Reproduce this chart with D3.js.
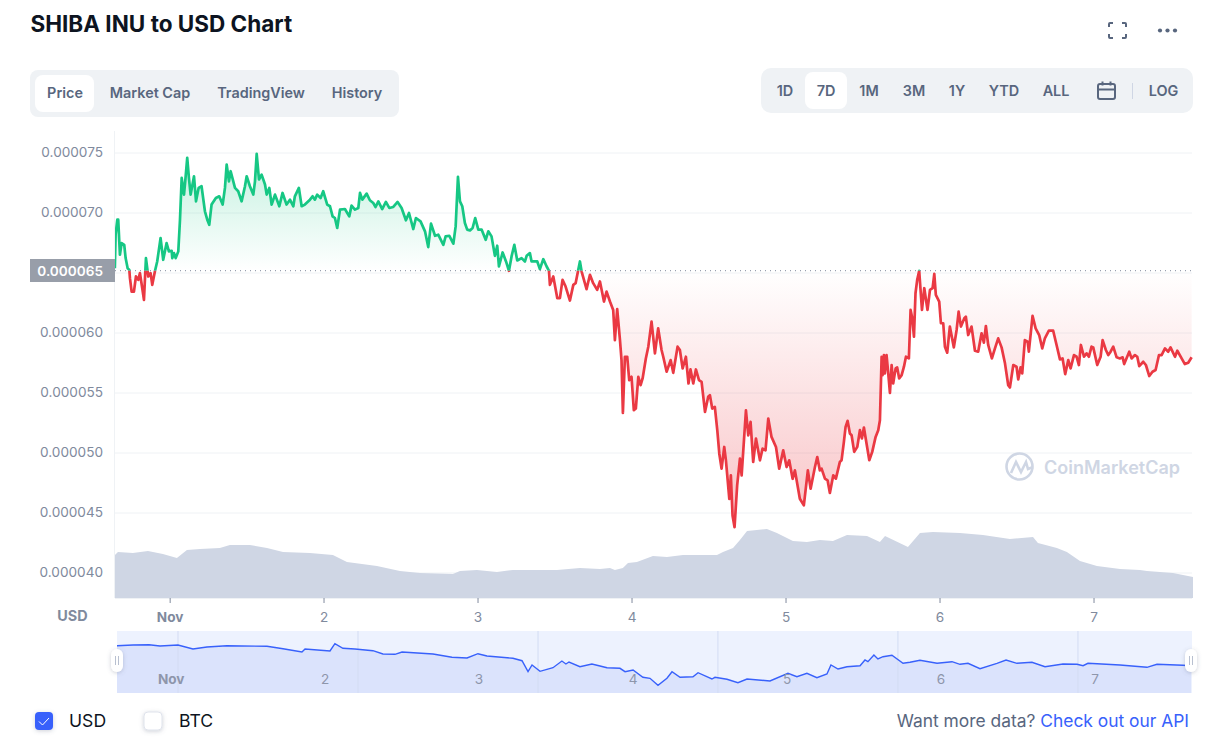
<!DOCTYPE html>
<html>
<head>
<meta charset="utf-8">
<title>SHIBA INU to USD Chart</title>
<script src="https://cdn.jsdelivr.net/npm/d3@7"></script>
<style>
  body { margin: 0; background: #fff; }
  svg { display: block; font-family: Inter, "Noto Sans", sans-serif; }
</style>
</head>
<body>
<div id="chart"></div>
<script>
// Price, in millionths of a USD. Days are dates in November.
const priceDays = [
  0.639,0.644,0.655,0.661,0.672,0.683,0.700,0.709,0.722,0.733,0.737,0.748,0.763,0.776,0.791,0.802,0.817,0.828,0.841,0.856,
  0.871,0.882,0.899,0.914,0.936,0.953,0.975,0.990,1.008,1.012,1.023,1.034,1.051,1.062,1.073,1.088,1.096,1.109,1.120,1.131,
  1.153,1.166,1.183,1.202,1.224,1.239,1.252,1.267,1.295,1.317,1.339,1.354,1.365,1.380,1.391,1.419,1.440,1.462,1.484,1.495,
  1.516,1.538,1.549,1.560,1.575,1.592,1.614,1.625,1.642,1.657,1.679,1.707,1.728,1.754,1.776,1.798,1.808,1.834,1.852,1.873,
  1.906,1.923,1.938,1.953,1.975,1.992,2.018,2.036,2.053,2.068,2.083,2.101,2.133,2.161,2.176,2.198,2.220,2.231,2.246,2.274,
  2.295,2.317,2.332,2.350,2.375,2.399,2.421,2.447,2.475,2.501,2.529,2.549,2.577,2.594,2.624,2.653,2.674,2.692,2.718,2.739,
  2.772,2.787,2.811,2.837,2.852,2.867,2.880,2.895,2.912,2.927,2.945,2.962,2.979,2.999,3.021,3.047,3.064,3.085,3.107,3.122,
  3.133,3.157,3.179,3.198,3.215,3.233,3.252,3.280,3.302,3.313,3.334,3.345,3.382,3.399,3.421,3.443,3.458,3.464,3.486,3.512,
  3.529,3.546,3.566,3.594,3.616,3.631,3.659,3.670,3.702,3.724,3.745,3.771,3.789,3.815,3.832,3.854,3.875,3.886,3.901,3.919,
  3.929,3.938,3.951,3.966,3.979,3.994,4.009,4.022,4.038,4.053,4.066,4.087,4.103,4.124,4.146,4.167,4.189,4.200,4.222,4.248,
  4.265,4.293,4.308,4.326,4.347,4.364,4.377,4.395,4.412,4.432,4.449,4.471,4.492,4.503,4.518,4.535,4.551,4.564,4.579,4.596,
  4.607,4.629,4.639,4.650,4.663,4.680,4.698,4.709,4.737,4.752,4.767,4.784,4.802,4.828,4.845,4.864,4.882,4.903,4.932,4.953,
  4.979,5.001,5.018,5.040,5.055,5.087,5.113,5.139,5.157,5.185,5.200,5.217,5.228,5.250,5.267,5.282,5.304,5.321,5.347,5.358,
  5.373,5.384,5.397,5.412,5.423,5.440,5.460,5.477,5.490,5.503,5.520,5.538,5.557,5.579,5.596,5.607,5.618,5.624,5.633,5.639,
  5.650,5.661,5.672,5.683,5.693,5.709,5.719,5.732,5.748,5.763,5.776,5.795,5.806,5.817,5.828,5.838,5.849,5.862,5.880,5.895,
  5.916,5.932,5.949,5.960,5.970,5.992,6.003,6.018,6.029,6.044,6.061,6.087,6.105,6.118,6.133,6.155,6.165,6.180,6.202,6.224,
  6.245,6.267,6.282,6.295,6.310,6.334,6.354,6.375,6.397,6.419,6.440,6.451,6.473,6.494,6.505,6.520,6.531,6.548,6.566,6.574,
  6.598,6.618,6.641,6.661,6.678,6.704,6.732,6.754,6.776,6.793,6.810,6.830,6.845,6.867,6.884,6.899,6.912,6.932,6.949,6.964,
  6.981,6.992,7.018,7.040,7.053,7.074,7.090,7.105,7.122,7.144,7.165,7.183,7.193,7.226,7.241,7.263,7.278,7.291,7.317,7.334,
  7.356,7.377,7.397,7.419,7.436,7.458,7.479,7.494,7.523,7.538,7.566,7.587,7.609,7.631
];
const priceValues = [
  65.36,68.15,69.40,69.40,66.48,67.45,67.31,66.20,65.36,65.22,64.53,63.41,63.41,64.67,64.39,64.95,63.69,62.72,66.20,64.67,
  64.95,63.97,65.09,65.92,67.87,66.06,67.45,66.76,66.81,66.20,66.62,66.20,66.76,69.40,72.88,71.49,72.60,74.56,72.88,71.49,
  73.02,70.93,72.05,72.19,70.10,69.40,68.98,70.66,71.21,71.35,70.66,72.05,74.00,72.60,73.44,72.05,71.77,70.93,72.19,73.02,
  72.19,71.49,72.60,74.89,72.75,73.16,72.33,71.49,72.05,70.66,71.49,70.52,71.63,70.66,71.07,70.52,71.35,72.05,70.52,70.66,
  71.07,71.35,71.07,71.49,71.21,71.77,70.66,70.52,69.68,69.54,68.71,70.24,70.29,69.68,70.57,70.24,70.38,71.63,71.07,71.57,
  71.02,70.79,70.46,70.93,70.29,70.88,70.38,70.46,70.88,70.38,69.35,69.96,68.62,69.54,69.26,68.43,67.12,69.07,68.06,68.15,
  67.31,68.01,68.06,67.40,68.84,72.97,70.93,70.52,69.12,68.57,68.51,68.71,69.54,68.57,68.57,67.73,68.43,68.01,66.39,67.23,
  65.50,66.67,65.92,65.14,66.34,67.31,66.00,66.20,65.92,66.39,66.62,65.92,65.92,65.28,66.11,65.50,65.14,63.97,64.67,62.86,
  62.86,64.39,63.83,62.66,63.97,64.11,65.92,65.08,63.61,64.81,64.11,63.55,64.25,62.58,63.41,62.58,61.88,59.37,61.94,59.37,
  57.70,53.30,57.98,57.98,56.03,56.31,53.52,53.66,56.31,55.61,56.17,57.84,58.82,60.91,58.26,60.35,58.54,57.98,56.73,57.70,
  56.64,58.82,58.54,57.00,57.98,55.75,56.92,55.75,56.92,56.03,55.89,53.38,54.64,54.78,53.66,53.80,51.85,49.90,48.65,50.46,
  49.35,46.14,48.09,44.75,43.77,47.26,49.49,48.09,53.52,51.43,52.55,49.21,51.16,49.35,50.32,50.18,52.83,51.30,50.46,48.65,
  50.18,48.79,49.35,47.81,48.51,46.14,45.59,48.51,46.98,48.79,49.62,48.51,48.66,47.82,47.68,46.63,48.10,47.82,49.22,49.36,
  50.89,52.14,52.64,51.58,51.44,50.05,50.47,51.86,51.17,52.08,50.75,49.36,50.05,51.30,51.86,52.69,57.98,56.45,58.12,56.59,
  58.12,56.59,54.97,57.29,55.75,57.01,57.09,56.17,56.45,57.15,57.98,57.84,61.88,61.19,59.65,63.27,64.39,65.14,61.88,63.69,
  61.88,63.55,63.69,64.89,63.14,62.58,60.77,60.77,58.82,58.32,60.49,58.76,60.21,61.74,60.49,61.19,61.32,59.79,60.49,58.48,
  58.40,59.93,59.15,60.54,58.96,57.84,58.68,59.51,58.76,57.43,55.61,55.42,57.29,57.15,56.09,57.09,56.59,59.37,59.24,58.40,
  61.38,60.35,59.79,58.68,59.51,60.15,60.15,58.96,57.76,57.84,56.53,57.70,57.01,58.12,57.98,57.29,58.96,57.98,58.26,57.98,
  58.82,58.76,57.29,57.98,59.37,58.54,58.12,58.40,58.82,57.93,57.84,57.93,57.37,58.40,57.84,58.12,57.98,57.20,57.56,57.29,
  56.37,56.73,56.87,58.12,58.12,58.68,58.40,58.76,57.98,58.48,57.84,57.37,57.48,57.93
];

// Volume in billions of USD (the chart has no volume axis, so the unit is a guess)
const volumeDays = [
  0.640,0.659,0.756,0.854,0.951,1.042,1.107,1.192,1.321,1.386,1.516,1.627,1.731,1.906,2.055,2.146,2.341,2.490,2.555,2.620,
  2.834,2.880,2.990,3.120,3.224,3.510,3.659,3.789,3.854,3.886,3.938,3.971,4.029,4.133,4.224,4.328,4.549,4.588,4.653,4.698,
  4.744,4.873,4.938,5.042,5.133,5.217,5.302,5.393,5.523,5.607,5.640,5.789,5.867,5.951,6.127,6.276,6.451,6.601,6.633,6.756,
  6.821,6.906,7.016,7.166,7.295,7.341,7.510,7.640
];
const volumeValues = [
  4.3,4.6,4.5,4.7,4.4,4.0,4.8,4.9,5.0,5.3,5.3,5.0,4.6,4.5,4.3,3.6,3.2,2.7,2.6,2.5,
  2.4,2.7,2.8,2.6,2.8,2.8,3.0,2.9,3.0,2.8,3.0,3.5,3.6,4.2,4.1,4.3,4.3,4.6,5.0,5.8,
  6.7,6.9,6.5,5.7,5.6,5.8,5.7,6.3,6.2,5.6,6.2,5.1,6.5,6.6,6.5,6.3,5.9,6.1,5.5,5.0,
  4.6,3.7,3.2,2.9,2.8,2.7,2.5,2.1
];

// Range selector strip at the bottom
const navDays = [
  0.643,0.747,0.851,0.922,1.039,1.136,1.227,1.357,1.617,1.721,1.844,1.864,2.026,2.058,2.110,2.188,2.305,2.370,2.448,2.494,
  2.695,2.818,2.916,2.987,3.045,3.214,3.273,3.312,3.338,3.390,3.474,3.532,3.558,3.578,3.649,3.727,3.825,3.909,3.942,3.994,
  4.058,4.104,4.156,4.214,4.247,4.299,4.383,4.416,4.506,4.526,4.604,4.675,4.734,4.883,5.000,5.058,5.123,5.188,5.253,5.279,
  5.325,5.383,5.468,5.500,5.519,5.558,5.584,5.617,5.675,5.747,5.792,5.857,5.968,6.065,6.117,6.169,6.247,6.357,6.416,6.487,
  6.584,6.669,6.786,6.877,6.916,6.948,7.156,7.331,7.396,7.565,7.617
];
const navValues = [
  47.3,48,48.3,47,48,44,46,47.3,46.7,44.3,41,44,42,49.3,44.7,44,42.3,39,38.7,41,
  39,35.7,35,39.3,37,34.7,32.3,21.3,28,21.7,25.3,32,29,31,26.3,29,25.3,24.7,21.3,23,
  15.7,14.7,7.7,14.7,21.3,15.7,16.3,20.3,14,15.7,13.7,10.3,14,12,19.7,16.3,19.7,15.3,19,28,
  24,26.3,27.3,33,31.3,38,34,36.3,37.7,29.7,30.7,32.7,29.7,31.3,28.7,29.7,24.3,29.7,33,29.7,
  30.7,26.3,29,28.7,27.3,29.7,28,25.7,28.7,27.7,27.3
];
const navGridDays = [1.039, 2.208, 3.377, 4.545, 5.714, 6.883];

const yTicks = [40, 45, 50, 55, 60, 65, 70, 75];
const dayTicks = [0.995, 1.994, 2.994, 3.994, 4.994, 5.994, 6.994];
const dayLabels = ["Nov", "2", "3", "4", "5", "6", "7"];
const basePrice = 65.15;

const chartTabs = ["Price", "Market Cap", "TradingView", "History"];
const chartTabX = [65, 150, 261, 357];
const rangeTabs = ["1D", "7D", "1M", "3M", "1Y", "YTD", "ALL"];
const rangeTabX = [785, 826, 869, 914, 957, 1004, 1056];

const GREEN = "#16c784", RED = "#ea3943", BLUE = "#3861fb";
const SLATE = "#58667e", GREY = "#808a9d", GRID = "#eff2f5";

const svg = d3.select("#chart").append("svg").attr("width", 1215).attr("height", 751);
const defs = svg.append("defs");

const x = d3.scaleLinear().domain([0.64, 7.636]).range([115, 1192.4]);
const y = d3.scaleLinear().domain([40, 75]).range([572.5, 152.5]);
const yVol = d3.scaleLinear().domain([0, 7]).range([598, 528]);
const xNav = d3.scaleLinear().domain([0.643, 7.617]).range([117, 1191]);
const yNav = d3.scaleLinear().domain([0, 62]).range([693, 631]);

const price = priceDays.map((d, i) => [d, priceValues[i]]);
const volume = volumeDays.map((d, i) => [d, volumeValues[i]]);
const nav = navDays.map((d, i) => [d, navValues[i]]);

// header
svg.append("text").attr("x", 30.5).attr("y", 32).attr("font-size", 22.5).attr("font-weight", 700)
  .attr("fill", "#0d1421").text("SHIBA INU to USD Chart");

svg.append("path").attr("fill", "none").attr("stroke", SLATE).attr("stroke-width", 2)
  .attr("d", "M1109 27v-3a1 1 0 0 1 1-1h3M1122 23h3a1 1 0 0 1 1 1v3M1126 34v3a1 1 0 0 1-1 1h-3M1113 38h-3a1 1 0 0 1-1-1v-3");
svg.selectAll(".dot").data([1160, 1167.5, 1175]).enter().append("circle")
  .attr("cx", d => d).attr("cy", 30.5).attr("r", 2.1).attr("fill", SLATE);

// tabs
svg.append("rect").attr("x", 30).attr("y", 70).attr("width", 369).attr("height", 47).attr("rx", 8).attr("fill", GRID);
svg.append("rect").attr("x", 35).attr("y", 75).attr("width", 59).attr("height", 37).attr("rx", 8).attr("fill", "#fff");
svg.selectAll(".tab").data(chartTabs).enter().append("text")
  .attr("x", (d, i) => chartTabX[i]).attr("y", 98).attr("text-anchor", "middle")
  .attr("font-size", 14.4).attr("font-weight", 600).attr("fill", SLATE).text(d => d);

svg.append("rect").attr("x", 761).attr("y", 68).attr("width", 432).attr("height", 45).attr("rx", 10).attr("fill", GRID);
svg.append("rect").attr("x", 805).attr("y", 72).attr("width", 42).attr("height", 37).attr("rx", 8).attr("fill", "#fff");
svg.selectAll(".range").data(rangeTabs).enter().append("text")
  .attr("x", (d, i) => rangeTabX[i]).attr("y", 96).attr("text-anchor", "middle")
  .attr("font-size", 14.4).attr("font-weight", 600).attr("fill", SLATE).text(d => d);
svg.append("rect").attr("x", 1098).attr("y", 84).attr("width", 17).attr("height", 15).attr("rx", 2)
  .attr("fill", "none").attr("stroke", SLATE).attr("stroke-width", 2);
svg.append("path").attr("stroke", SLATE).attr("stroke-width", 2).attr("d", "M1098 89.5h17M1102.5 81.5v4M1110.5 81.5v4");
svg.append("path").attr("stroke", "#cfd6e4").attr("d", "M1132.5 83v16");
svg.append("text").attr("x", 1163.5).attr("y", 96).attr("text-anchor", "middle")
  .attr("font-size", 14.4).attr("font-weight", 600).attr("fill", SLATE).text("LOG");

// gridlines and y labels (the 65 label sits in the grey box further down)
const yAxis = svg.append("g").attr("transform", "translate(115,0)")
  .call(d3.axisLeft(y).tickValues(yTicks).tickSize(-1077).tickPadding(12)
    .tickFormat(d => d === 65 ? "" : (d / 1e6).toFixed(6)));
yAxis.select(".domain").remove();
yAxis.selectAll("line").attr("stroke", GRID);
yAxis.selectAll("text").attr("fill", GREY).attr("font-size", 13.6)
  .attr("font-family", "Inter, sans-serif");

svg.append("path").attr("stroke", GRID).attr("d", "M114.5 131V598");

// watermark
svg.append("circle").attr("cx", 1019.5).attr("cy", 466.5).attr("r", 13)
  .attr("fill", "none").attr("stroke", "#cfd6e4").attr("stroke-width", 2.6);
svg.append("path").attr("fill", "#fff").attr("stroke", "#cfd6e4").attr("stroke-width", 2.6)
  .attr("d", "M1011 473l5-11 5 10 5-10 2 7 5-2");
svg.append("text").attr("x", 1044).attr("y", 473.5).attr("font-size", 18).attr("font-weight", 600)
  .attr("fill", "#cfd6e4").text("CoinMarketCap");

// volume
svg.append("path").datum(volume).attr("fill", "#cfd6e4")
  .attr("d", d3.area().x(d => x(d[0])).y0(yVol(0)).y1(d => yVol(d[1])));

// price fill and line, split at the base price with two clip rectangles
const baseY = y(basePrice);
defs.append("clipPath").attr("id", "above").append("rect")
  .attr("x", 115).attr("y", 130).attr("width", 1078).attr("height", baseY - 130);
defs.append("clipPath").attr("id", "below").append("rect")
  .attr("x", 115).attr("y", baseY).attr("width", 1078).attr("height", 600 - baseY);

const gradUp = defs.append("linearGradient").attr("id", "gradUp").attr("gradientUnits", "userSpaceOnUse")
  .attr("x1", 0).attr("x2", 0).attr("y1", y(75)).attr("y2", baseY);
gradUp.append("stop").attr("offset", 0).attr("stop-color", GREEN).attr("stop-opacity", 0.26);
gradUp.append("stop").attr("offset", 1).attr("stop-color", GREEN).attr("stop-opacity", 0);
const gradDown = defs.append("linearGradient").attr("id", "gradDown").attr("gradientUnits", "userSpaceOnUse")
  .attr("x1", 0).attr("x2", 0).attr("y1", baseY).attr("y2", y(44));
gradDown.append("stop").attr("offset", 0).attr("stop-color", RED).attr("stop-opacity", 0);
gradDown.append("stop").attr("offset", 1).attr("stop-color", RED).attr("stop-opacity", 0.3);

const priceArea = d3.area().x(d => x(d[0])).y0(baseY).y1(d => y(d[1]));
const priceLine = d3.line().x(d => x(d[0])).y(d => y(d[1]));

[["above", GREEN, "gradUp"], ["below", RED, "gradDown"]].forEach(([clip, colour, grad]) => {
  const g = svg.append("g").attr("clip-path", `url(#${clip})`);
  g.append("path").datum(price).attr("fill", `url(#${grad})`).attr("d", priceArea);
  g.append("path").datum(price).attr("fill", "none").attr("stroke", colour)
    .attr("stroke-width", 2.7).attr("stroke-linejoin", "round").attr("d", priceLine);
});

// base price marker
svg.append("line").attr("x1", 115).attr("x2", 1192).attr("y1", baseY).attr("y2", baseY)
  .attr("stroke", "#808a9d").attr("stroke-dasharray", "1 4");
svg.append("rect").attr("x", 30).attr("y", 259).attr("width", 85).attr("height", 23).attr("fill", "#989ea9");
svg.append("text").attr("x", 103).attr("y", 275.5).attr("text-anchor", "end").attr("font-size", 13.6)
  .attr("font-weight", 600).attr("fill", "#fff").text("0.000065");

// x axis
const xAxis = svg.append("g").attr("transform", "translate(0,598)")
  .call(d3.axisBottom(x).tickValues(dayTicks).tickSize(5).tickPadding(9)
    .tickFormat((d, i) => dayLabels[i]));
xAxis.select(".domain").attr("stroke", GRID).attr("d", "M115 0.5H1192");
xAxis.selectAll("line").attr("stroke", GREY);
xAxis.selectAll("text").attr("fill", GREY).attr("font-size", 13.6).attr("font-family", "Inter, sans-serif")
  .attr("font-weight", (d, i) => i === 0 ? 700 : 400);
svg.append("text").attr("x", 72.5).attr("y", 621).attr("text-anchor", "middle").attr("font-size", 14.4)
  .attr("font-weight", 700).attr("fill", GREY).text("USD");

// range selector
svg.append("rect").attr("x", 117).attr("y", 631).attr("width", 1075).attr("height", 62).attr("fill", "#edf2fe");
svg.append("path").datum(nav).attr("fill", "#dbe3fc")
  .attr("d", d3.area().x(d => xNav(d[0])).y0(yNav(0)).y1(d => yNav(d[1])));
svg.selectAll(".navgrid").data(navGridDays).enter().append("line")
  .attr("x1", d => xNav(d)).attr("x2", d => xNav(d)).attr("y1", 631).attr("y2", 693)
  .attr("stroke", "#d3dcf3");
svg.append("path").datum(nav).attr("fill", "none").attr("stroke", BLUE).attr("stroke-width", 1.4)
  .attr("d", d3.line().x(d => xNav(d[0])).y(d => yNav(d[1])));
svg.selectAll(".navlabel").data(dayTicks).enter().append("text")
  .attr("x", d => xNav(d)).attr("y", 684).attr("text-anchor", "middle").attr("font-size", 13.6)
  .attr("font-weight", (d, i) => i === 0 ? 700 : 400).attr("fill", "#8e96ab").text((d, i) => dayLabels[i]);

const shadow = defs.append("filter").attr("id", "shadow").attr("x", "-50%").attr("y", "-50%")
  .attr("width", "200%").attr("height", "200%");
shadow.append("feDropShadow").attr("dx", 0).attr("dy", 1).attr("stdDeviation", 2)
  .attr("flood-color", "#58667e").attr("flood-opacity", 0.3);

[111, 1185].forEach(left => {
  svg.append("rect").attr("x", left).attr("y", 649).attr("width", 12).attr("height", 23).attr("rx", 6)
    .attr("fill", "#fff").attr("filter", "url(#shadow)");
  svg.append("path").attr("stroke", "#b8c0d0").attr("d", `M${left + 4.5} 656v9M${left + 7.5} 656v9`);
});

// footer
svg.append("rect").attr("x", 35).attr("y", 712).attr("width", 18).attr("height", 18).attr("rx", 4)
  .attr("fill", BLUE).attr("filter", "url(#shadow)");
svg.append("path").attr("fill", "none").attr("stroke", "#fff").attr("d", "M39 721.5l3.5 3.5 6.5-7");
svg.append("rect").attr("x", 144).attr("y", 712).attr("width", 18).attr("height", 18).attr("rx", 4)
  .attr("fill", "#fff").attr("stroke", "#dfe3ec").attr("filter", "url(#shadow)");
svg.append("text").attr("x", 69).attr("y", 727).attr("font-size", 17.6).attr("fill", "#0d1421").text("USD");
svg.append("text").attr("x", 179).attr("y", 727).attr("font-size", 17.6).attr("fill", "#0d1421").text("BTC");

const more = svg.append("text").attr("x", 1189).attr("y", 727).attr("text-anchor", "end").attr("font-size", 17.4);
more.append("tspan").attr("fill", SLATE).text("Want more data? ");
more.append("tspan").attr("fill", BLUE).text("Check out our API");
</script>
</body>
</html>
